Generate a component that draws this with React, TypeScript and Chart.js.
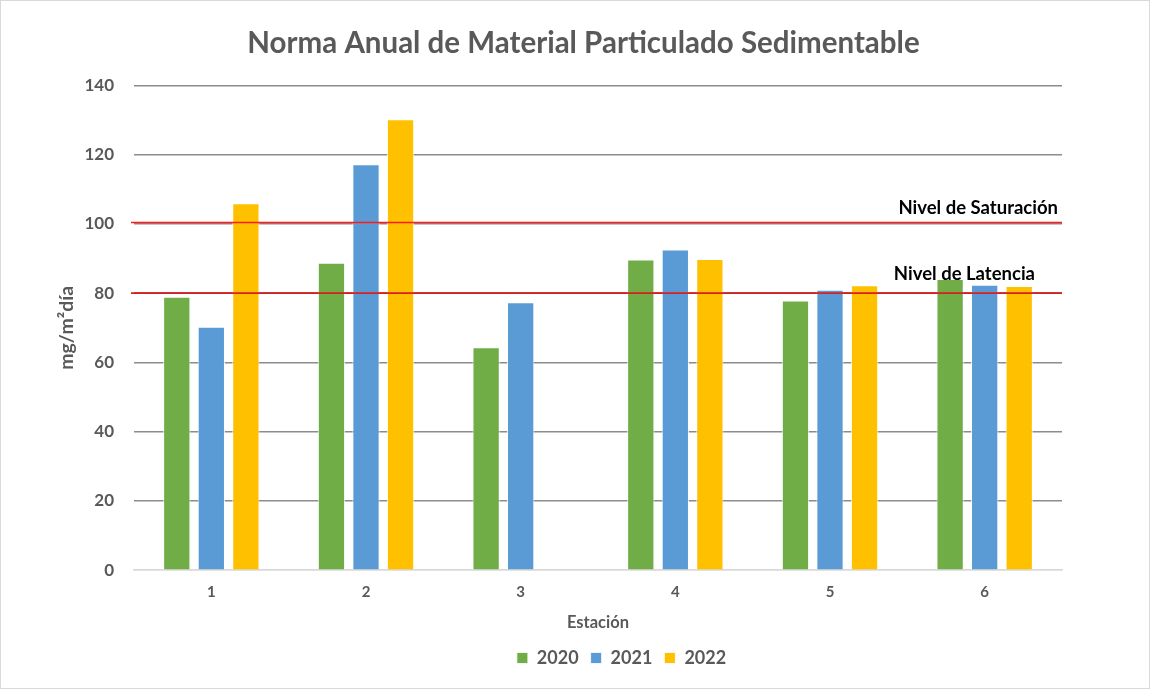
import React, { useEffect, useRef } from "react";
import { Chart, registerables } from "chart.js";

Chart.register(...registerables);

const stations = ["1", "2", "3", "4", "5", "6"];
const years = ["2020", "2021", "2022"];
const values2020 = [79.0, 88.8, 64.4, 89.7, 77.9, 84.1];
const values2021 = [70.3, 117.2, 77.4, 92.6, 81.0, 82.4];
const values2022 = [106.0, 130.2, null, 89.9, 82.3, 82.1];
const yearColors = ["#70AD47", "#5B9BD5", "#FFC000"];
const refLabels = ["Nivel de Saturación", "Nivel de Latencia"];
const refValues = [100.4, 80];

const FONT = "Lato, 'Open Sans', sans-serif";

const refLinesPlugin = {
  id: "refLines",
  afterLayout(chart: any) {
    // Excel-style off-centre placement of title and legend
    if (chart.titleBlock) {
      chart.titleBlock.left += 25;
      chart.titleBlock.right += 25;
    }
    if (chart.legend) {
      chart.legend.left += 63;
      chart.legend.right += 63;
    }
  },
  afterDatasetsDraw(chart: any) {
    const { ctx, chartArea, scales } = chart;
    const y = scales.y;
    const labelOffsets = [[4, 14], [27, 19]];
    const colors = ["#FF1A1A", "#D81E1E"];
    ctx.save();
    refValues.forEach((v, i) => {
      const py = y.getPixelForValue(v);
      ctx.beginPath();
      ctx.strokeStyle = colors[i];
      ctx.lineWidth = 1.6;
      ctx.moveTo(chartArea.left - 3, py);
      ctx.lineTo(chartArea.right, py);
      ctx.stroke();
      ctx.fillStyle = "#000000";
      ctx.font = `bold 18.5px ${FONT}`;
      ctx.textAlign = "right";
      ctx.textBaseline = "middle";
      ctx.fillText(refLabels[i], chartArea.right - labelOffsets[i][0], py - labelOffsets[i][1]);
    });
    ctx.restore();
  },
};

export default function App() {
  const ref = useRef<HTMLCanvasElement>(null);
  useEffect(() => {
    const series = [values2020, values2021, values2022];
    const chart = new Chart(ref.current!, {
      type: "bar",
      data: {
        labels: stations,
        datasets: years.map((yr, i) => ({
          label: yr,
          data: series[i],
          backgroundColor: yearColors[i],
          borderColor: "rgba(255,255,255,0.8)",
          borderWidth: 1,
          barPercentage: 0.79,
          categoryPercentage: 0.67,
        })),
      },
      options: {
        animation: false,
        responsive: false,
        maintainAspectRatio: false,
        layout: { padding: { left: 54, right: 86, top: 10, bottom: 10 } },
        plugins: {
          title: {
            display: true,
            text: "Norma Anual de Material Particulado Sedimentable",
            color: "#595959",
            font: { family: FONT, size: 29.5, weight: "bold" },
            padding: { top: 15, bottom: 24 },
          },
          legend: {
            position: "bottom",
            labels: {
              color: "#595959",
              font: { family: FONT, size: 18, weight: "bold" },
              boxWidth: 11,
              boxHeight: 11,
              padding: 12,
            },
          },
          tooltip: { enabled: false },
        },
        scales: {
          x: {
            grid: { display: false, drawTicks: false },
            border: { color: "#D9D9D9", width: 1.5 },
            ticks: {
              color: "#595959",
              font: { family: FONT, size: 15, weight: "bold" },
              padding: 13,
            },
            title: {
              display: true,
              text: "Estación",
              color: "#595959",
              font: { family: FONT, size: 16.5, weight: "bold" },
              padding: { top: -1, bottom: 4 },
            },
          },
          y: {
            min: 0,
            max: 140,
            afterFit: (scale: any) => {
              scale.width = 79;
            },
            grid: {
              color: (c: any) => (c.tick && c.tick.value === 0 ? "#D9D9D9" : "#8C8C8C"),
              lineWidth: 1.5,
              drawTicks: false,
            },
            border: { display: false },
            ticks: {
              stepSize: 20,
              color: "#595959",
              font: { family: FONT, size: 17, weight: "bold" },
              padding: 20,
            },
            title: {
              display: true,
              text: "mg/m²día",
              color: "#595959",
              font: { family: FONT, size: 19.5, weight: "bold" },
              padding: { top: 0, bottom: 0 },
            },
          },
        },
      },
      plugins: [refLinesPlugin],
    });
    return () => chart.destroy();
  }, []);
  return (
    <div
      style={{
        position: "fixed",
        left: 0,
        top: 0,
        width: 1150,
        height: 689,
        boxSizing: "border-box",
        border: "1px solid #D9D9D9",
        background: "#fff",
      }}
    >
      <canvas ref={ref} width={1147} height={686} style={{ display: "block" }} />
    </div>
  );
}
